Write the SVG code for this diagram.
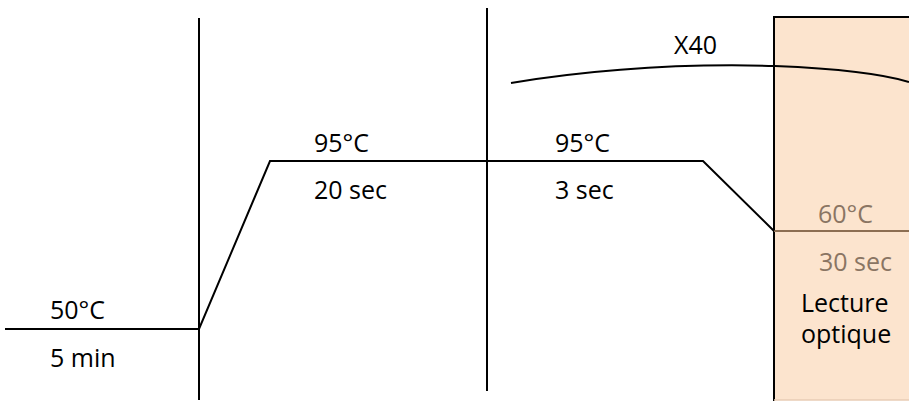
<svg xmlns="http://www.w3.org/2000/svg" width="909" height="401" viewBox="0 0 909 401">
<style>
.t{font-family:"Open Sans","Liberation Sans",sans-serif;font-size:25px;fill:#000}
.b{fill:#8a7563}
.ln{stroke:#000;stroke-width:2;fill:none}
</style>
<rect width="909" height="401" fill="#fff"/>
<g id="box">
<rect x="774" y="17" width="140" height="383" fill="#fce4ce" stroke="none"/>
<path d="M774,401 V17 H909" class="ln"/>
<line x1="774" y1="400" x2="909" y2="400" stroke="#e8cdb5" stroke-width="1.5"/>
<line x1="774" y1="231" x2="909" y2="231" stroke="#8c6e52" stroke-width="2"/>
<text class="t b" x="818" y="223">60°C</text>
<text class="t b" x="819" y="271">30 sec</text>
<text class="t" x="801" y="312">Lecture</text>
<text class="t" x="801" y="343">optique</text>
</g>
<g id="connectors">
<line x1="199" y1="18" x2="199" y2="400" class="ln"/>
<line x1="487" y1="8" x2="487" y2="391" class="ln"/>
<polyline points="5,329 199,329 270,161 703,161 774,231" class="ln"/>
<path d="M511,83 Q640,62 775,66 Q870,70 909,82" class="ln"/>
</g>
<g id="labels">
<text class="t" x="50" y="319">50°C</text>
<text class="t" x="50" y="367">5 min</text>
<text class="t" x="314" y="152">95°C</text>
<text class="t" x="314" y="199">20 sec</text>
<text class="t" x="555" y="152">95°C</text>
<text class="t" x="555" y="199">3 sec</text>
<text class="t" x="674" y="54">X40</text>
</g>
</svg>
